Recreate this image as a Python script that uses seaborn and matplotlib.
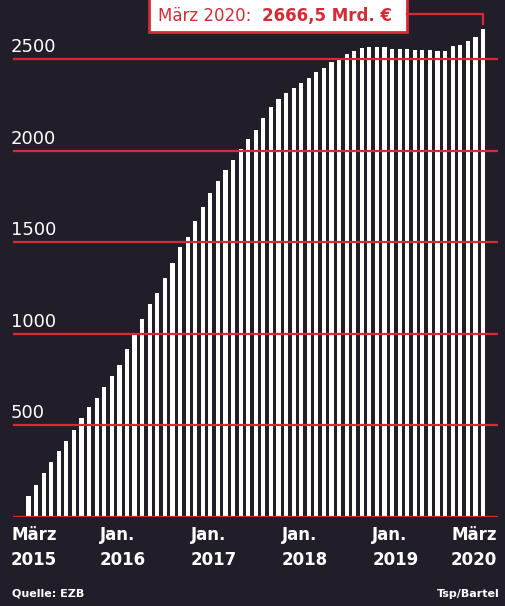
import matplotlib
matplotlib.use("Agg")
import matplotlib.pyplot as plt
import matplotlib.transforms as mtransforms
from matplotlib.lines import Line2D
from matplotlib.patches import Rectangle
import pandas as pd
import seaborn as sns

# Bestand der Anleihekäufe (Mrd. Euro), monatlich März 2015 - März 2020
months = pd.date_range("2015-03-01", periods=61, freq="MS").strftime("%Y-%m").tolist()
values = [115, 175, 239, 300, 360, 413, 475, 539, 599, 649,
          710, 772, 830, 916, 994, 1082, 1164, 1226, 1304, 1390,
          1475, 1532, 1617, 1695, 1772, 1834, 1896, 1951, 2013, 2064,
          2117, 2180, 2242, 2286, 2315, 2346, 2370, 2399, 2432, 2455,
          2484, 2510, 2532, 2546, 2561, 2568, 2566, 2568, 2559, 2559,
          2559, 2552, 2552, 2552, 2545, 2546, 2572, 2579, 2599, 2622,
          2666.5]
grid_values = [0, 500, 1000, 1500, 2000, 2500]
tick_months = ["2015-03", "2016-01", "2017-01", "2018-01", "2019-01", "2020-03"]
tick_labels = ["März\n2015", "Jan.\n2016", "Jan.\n2017", "Jan.\n2018", "Jan.\n2019", "März\n2020"]

bg = "#221e29"
red = "#d72a35"

df = pd.DataFrame({"month": months, "value": values})

fig = plt.figure(figsize=(5.06, 6.06), dpi=100, facecolor=bg)
ax = fig.add_axes([13 / 506, 89 / 606, 485 / 506, 517 / 606])
ax.set_facecolor(bg)

sns.barplot(data=df, x="month", y="value", color="white", width=0.55,
            saturation=1, ax=ax, zorder=2)

ax.set_xlim(-2.05, 61.98)
ax.set_ylim(0, 2825)
for s in ax.spines.values():
    s.set_visible(False)
ax.set_xticks([])
ax.set_yticks([])
ax.set_xlabel("")
ax.set_ylabel("")

# rote Linien über den Balken
for g in grid_values:
    ax.axhline(g, color=red, lw=1.6, zorder=3)

# y-Beschriftung links über den Linien
trans = mtransforms.blended_transform_factory(fig.transFigure, ax.transData)
trans = mtransforms.offset_copy(trans, fig=fig, x=0, y=7, units="dots")
for g in grid_values[1:]:
    ax.text(11 / 506, g, str(g), transform=trans, color="white", fontsize=13,
            ha="left", va="baseline", zorder=4)

# x-Beschriftung
xtrans = mtransforms.blended_transform_factory(ax.transData, fig.transFigure)
for m, lab in zip(tick_months, tick_labels):
    i = months.index(m)
    if i == 0:
        x, ha = i - 2.3, "left"
    elif i == len(months) - 1:
        x, ha = i + 1.85, "right"
    else:
        x, ha = i - 0.6, "left"
    ax.text(x, 1 - 565 / 606, lab, transform=xtrans, color="white",
            fontsize=12, fontweight="bold", ha=ha, va="baseline",
            linespacing=1.5, clip_on=False)

fig.text(12 / 506, 1 - 597 / 606, "Quelle: EZB", color="white", fontsize=8,
         fontweight="bold", ha="left", va="baseline")
fig.text(500 / 506, 1 - 597 / 606, "Tsp/Bartel", color="white", fontsize=8,
         fontweight="bold", ha="right", va="baseline")

# Hinweisbox oben
fig.add_artist(Rectangle((149 / 506, 1 - 32 / 606), 258 / 506, 34 / 606,
                         transform=fig.transFigure, facecolor="white",
                         edgecolor=red, lw=2, zorder=5))
last = values[-1]
fig.text(158 / 506, 1 - 21 / 606, "März 2020: ", color=red, fontsize=12,
         ha="left", va="baseline", zorder=6)
fig.text(262 / 506, 1 - 21 / 606,
         f"{last:.1f}".replace(".", ",") + " Mrd. €", color=red, fontsize=12,
         fontweight="bold", ha="left", va="baseline", zorder=6)
fig.add_artist(Line2D([407 / 506, 483 / 506, 483 / 506],
                      [1 - 14 / 606, 1 - 14 / 606, 1 - 24 / 606],
                      transform=fig.transFigure, color=red, lw=1.6, zorder=5))

fig.savefig("out.png", dpi=100, facecolor=bg)
